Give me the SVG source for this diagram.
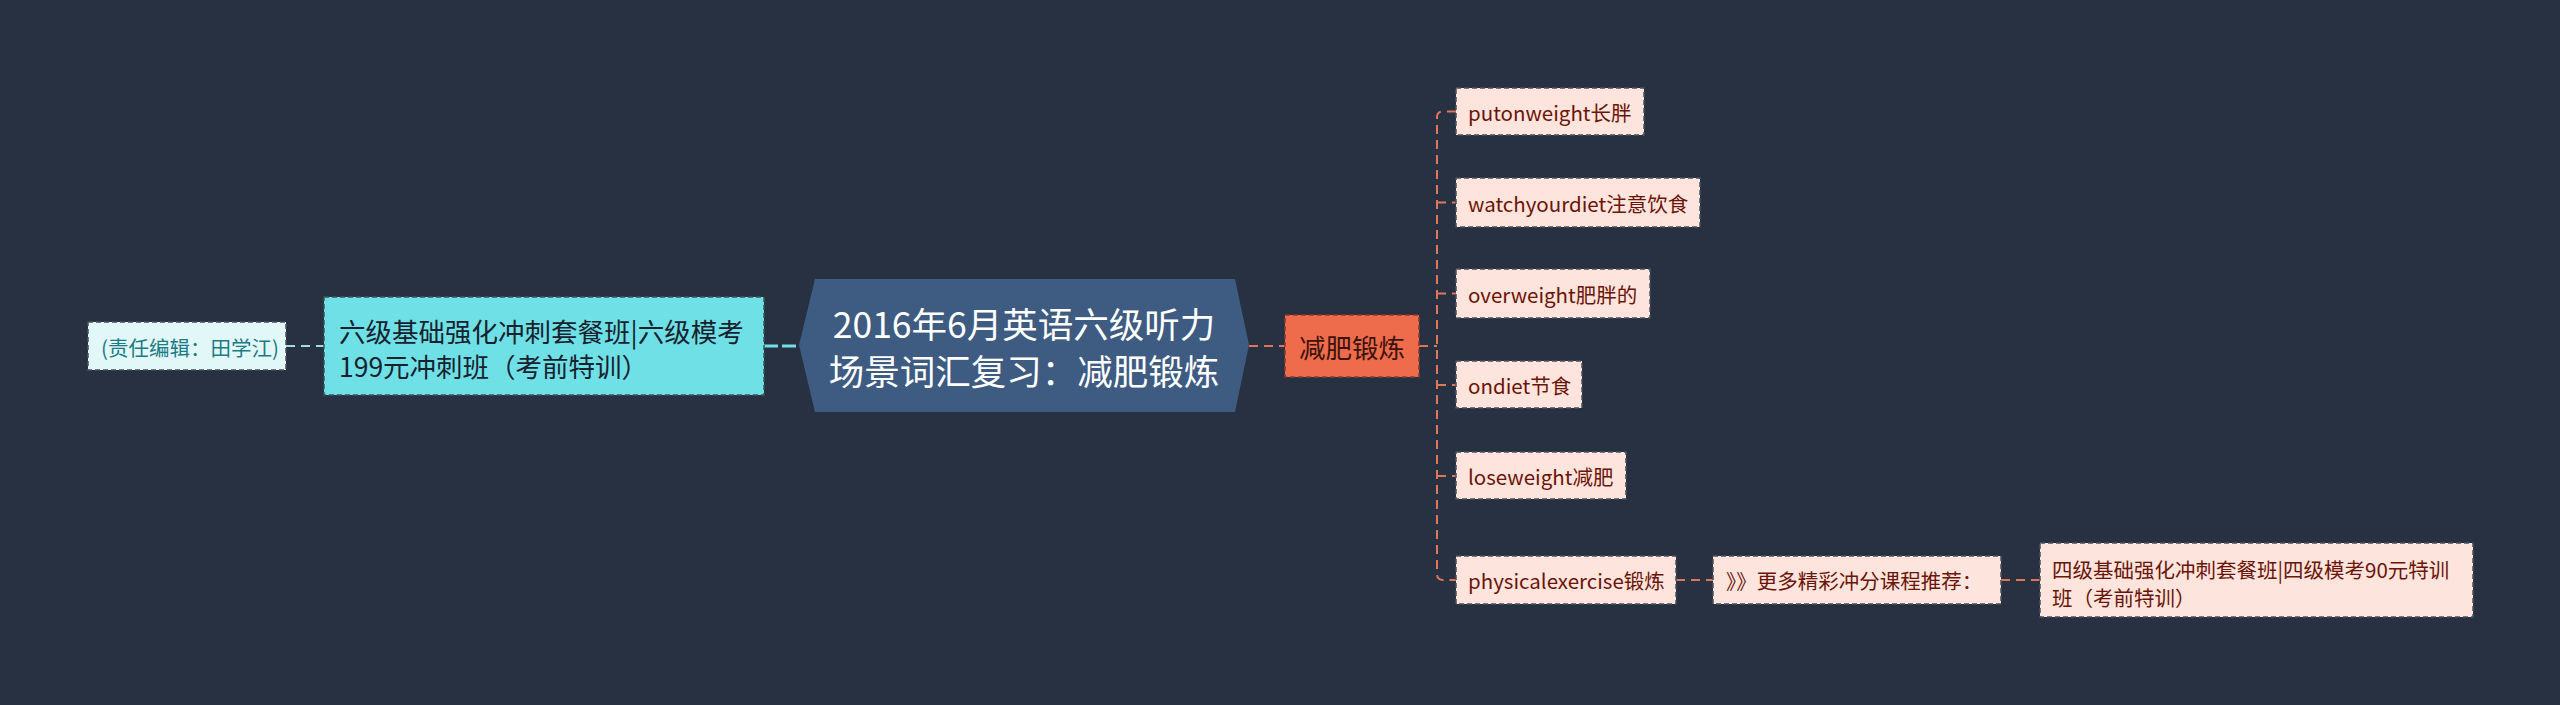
<svg xmlns="http://www.w3.org/2000/svg" width="2560" height="705" viewBox="0 0 2560 705">
<style>
text{font-family:"Noto Sans CJK SC","Noto Sans",sans-serif;dominant-baseline:central}
.leaf rect{fill:#fde4dc;stroke:#4a4f5a;stroke-width:1.5;stroke-dasharray:5 3}
.leaf text{font-size:20.5px;fill:#6b1408}
.con{fill:none;stroke:#e0755a;stroke-width:2;stroke-dasharray:9 6}
</style>
<rect width="2560" height="705" fill="#283142"/>
<g id="connectors">
<path d="M286 346 H324" stroke="#9fdde3" stroke-width="2" stroke-dasharray="9 6" fill="none"/>
<path d="M764 346 H800" stroke="#6fe0e6" stroke-width="3" stroke-dasharray="14 4" fill="none"/>
<path class="con" d="M1249 346 H1285"/>
<path class="con" d="M1419 346 H1437"/>
<path class="con" d="M1456 111.5 H1443 Q1437 111.5 1437 117.5 V574 Q1437 580 1443 580 H1456"/>
<path class="con" d="M1437 202.5 H1456 M1437 293.5 H1456 M1437 385 H1456 M1437 476 H1456"/>
<path class="con" d="M1676 580 H1713"/>
<path class="con" d="M2001 580 H2040"/>
</g>
<g id="n-editor">
<rect x="88" y="322" width="198" height="48" fill="#e2f7f8" stroke="#4a4f5a" stroke-width="1.5" stroke-dasharray="5 3"/>
<text x="101" y="347" font-size="20.5" fill="#1b7b84">(责任编辑：田学江)</text>
</g>
<g id="n-six">
<rect x="324" y="297" width="440" height="98" fill="#6fe0e6" stroke="#3a5560" stroke-width="1.5" stroke-dasharray="5 3"/>
<text x="339" y="330" font-size="26.5" fill="#17222e">六级基础强化冲刺套餐班|六级模考</text>
<text x="339" y="365" font-size="26.5" fill="#17222e">199元冲刺班（考前特训）</text>
</g>
<g id="n-root">
<polygon points="799,345 815,279 1235,279 1249,345 1235,412 815,412" fill="#3e5b81"/>
<text x="1024" y="322" font-size="35.5" fill="#ffffff" text-anchor="middle">2016年6月英语六级听力</text>
<text x="1024" y="369" font-size="35.5" fill="#ffffff" text-anchor="middle">场景词汇复习：减肥锻炼</text>
</g>
<g id="n-topic">
<rect x="1285" y="315" width="134" height="62" fill="#ee6b4c" stroke="#8a3a2a" stroke-width="1.5" stroke-dasharray="5 3"/>
<text x="1352" y="346" font-size="26.5" fill="#3b140c" text-anchor="middle">减肥锻炼</text>
</g>
<g id="n-1" class="leaf"><rect x="1456" y="88" width="188" height="47"/><text x="1468" y="111.5">putonweight长胖</text></g>
<g id="n-2" class="leaf"><rect x="1456" y="178" width="244" height="49"/><text x="1468" y="202.5">watchyourdiet注意饮食</text></g>
<g id="n-3" class="leaf"><rect x="1456" y="269" width="194" height="49"/><text x="1468" y="293.5">overweight肥胖的</text></g>
<g id="n-4" class="leaf"><rect x="1456" y="361" width="126" height="47"/><text x="1468" y="385">ondiet节食</text></g>
<g id="n-5" class="leaf"><rect x="1456" y="452" width="170" height="47"/><text x="1468" y="476">loseweight减肥</text></g>
<g id="n-6" class="leaf"><rect x="1456" y="556" width="220" height="48"/><text x="1468" y="580">physicalexercise锻炼</text></g>
<g id="n-7" class="leaf"><rect x="1713" y="556" width="288" height="48"/><text x="1726" y="580">》》更多精彩冲分课程推荐：</text></g>
<g id="n-8" class="leaf"><rect x="2040" y="543" width="433" height="74"/><text x="2052" y="569">四级基础强化冲刺套餐班|四级模考90元特训</text><text x="2052" y="597">班（考前特训）</text></g>
</svg>
